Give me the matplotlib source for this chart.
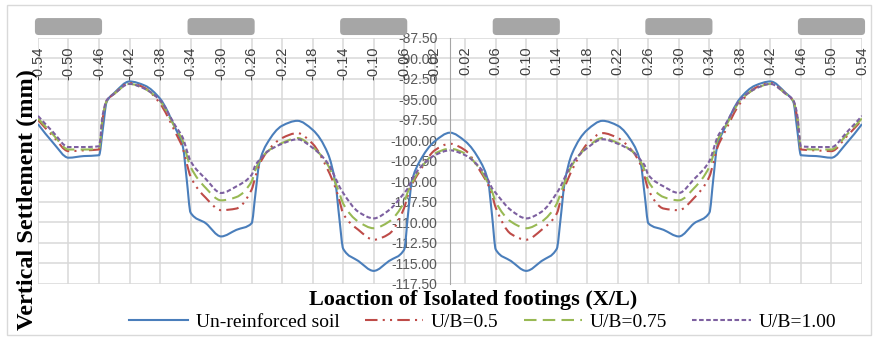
import matplotlib
matplotlib.use('Agg')
from matplotlib import pyplot as plt
from matplotlib.patches import FancyBboxPatch, Rectangle, PathPatch
from matplotlib.path import Path
from matplotlib.lines import Line2D
import matplotlib.transforms as mtransforms

# location along the model (X/L)
x_loc = [-0.54, -0.52, -0.50, -0.48, -0.46, -0.455, -0.45, -0.44, -0.42, -0.40,
         -0.38, -0.36, -0.35, -0.345, -0.34, -0.32, -0.30, -0.28, -0.26, -0.255,
         -0.25, -0.24, -0.22, -0.20, -0.18, -0.16, -0.15, -0.145, -0.14, -0.12,
         -0.10, -0.08, -0.06, -0.055, -0.05, -0.04, -0.02,
         0.00,
         0.02, 0.04, 0.05, 0.055, 0.06, 0.08, 0.10, 0.12, 0.14, 0.145,
         0.15, 0.16, 0.18, 0.20, 0.22, 0.24, 0.25, 0.255, 0.26, 0.28,
         0.30, 0.32, 0.34, 0.345, 0.35, 0.36, 0.38, 0.40, 0.42, 0.44,
         0.45, 0.455, 0.46, 0.48, 0.50, 0.52, 0.54]

unreinforced = [-98.0, -100.3, -102.1, -101.9, -101.8, -98.6, -95.3, -94.2, -92.8, -93.3,
                -94.9, -98.5, -100.8, -104.8, -108.8, -110.1, -111.7, -110.9, -110.1, -106.5,
                -102.8, -100.4, -98.2, -97.6, -98.7, -101.6, -105.3, -109.5, -113.2, -114.7,
                -115.9, -114.7, -113.3, -109.0, -105.0, -102.6, -100.1,
                -99.05,
                -100.1, -102.6, -105.0, -109.0, -113.3, -114.7, -115.9, -114.7, -113.2, -109.5,
                -105.3, -101.6, -98.7, -97.6, -98.2, -100.4, -102.8, -106.5, -110.1, -110.9,
                -111.7, -110.1, -108.8, -104.8, -100.8, -98.5, -94.9, -93.3, -92.8, -94.2,
                -95.3, -98.6, -101.8, -101.9, -102.1, -100.3, -98.0]

ub_050 = [-97.5, -99.5, -101.3, -101.2, -101.1, -97.2, -95.2, -94.3, -93.0, -93.6,
          -95.5, -99.0, -101.0, -102.8, -104.4, -107.0, -108.5, -108.3, -106.0, -104.4,
          -103.0, -101.4, -99.7, -99.1, -100.4, -103.6, -105.8, -107.3, -108.9, -110.9,
          -112.1, -111.4, -108.2, -106.6, -105.4, -103.8, -101.2,
          -100.4,
          -101.2, -103.8, -105.4, -106.6, -108.2, -111.4, -112.1, -110.9, -108.9, -107.3,
          -105.8, -103.6, -100.4, -99.1, -99.7, -101.4, -103.0, -104.4, -106.0, -108.3,
          -108.5, -107.0, -104.4, -102.8, -101.0, -99.0, -95.5, -93.6, -93.0, -94.3,
          -95.2, -97.2, -101.1, -101.2, -101.3, -99.5, -97.5]

ub_075 = [-97.3, -99.3, -101.1, -101.1, -101.0, -97.0, -95.2, -94.3, -93.1, -93.7,
          -95.2, -98.5, -100.1, -101.8, -103.2, -105.8, -107.3, -106.9, -105.0, -103.6,
          -102.6, -101.4, -100.3, -99.7, -100.8, -103.0, -105.2, -106.4, -107.7, -109.9,
          -110.7, -109.9, -107.5, -106.2, -105.2, -103.6, -101.6,
          -101.0,
          -101.6, -103.6, -105.2, -106.2, -107.5, -109.9, -110.7, -109.9, -107.7, -106.4,
          -105.2, -103.0, -100.8, -99.7, -100.3, -101.4, -102.6, -103.6, -105.0, -106.9,
          -107.3, -105.8, -103.2, -101.8, -100.1, -98.5, -95.2, -93.7, -93.1, -94.3,
          -95.2, -97.0, -101.0, -101.1, -101.1, -99.3, -97.3]

ub_100 = [-97.0, -99.0, -100.8, -100.8, -100.7, -96.8, -95.1, -94.3, -93.1, -93.7,
          -95.1, -98.2, -99.7, -101.2, -102.5, -104.7, -106.4, -105.6, -104.2, -103.0,
          -102.4, -101.4, -100.4, -99.85, -100.9, -102.8, -104.6, -105.6, -106.4, -108.7,
          -109.5, -108.5, -106.4, -105.8, -104.8, -103.4, -101.8,
          -101.2,
          -101.8, -103.4, -104.8, -105.8, -106.4, -108.5, -109.5, -108.7, -106.4, -105.6,
          -104.6, -102.8, -100.9, -99.85, -100.4, -101.4, -102.4, -103.0, -104.2, -105.6,
          -106.4, -104.7, -102.5, -101.2, -99.7, -98.2, -95.1, -93.7, -93.1, -94.3,
          -95.1, -96.8, -100.7, -100.8, -100.8, -99.0, -97.0]

series_names = ['Un-reinforced soil', 'U/B=0.5', 'U/B=0.75', 'U/B=1.00']

# footing centres (X/L), drawn as grey blocks above the plot
footings = [-0.50, -0.30, -0.10, 0.10, 0.30, 0.50]

x_ticks = [-0.54 + 0.04 * i for i in range(28)]
y_ticks = [-87.5 - 2.5 * i for i in range(13)]


def smooth_path(xs, ys):
    # excel style "smoothed line": cubic bezier through every point,
    # tangents picked so the curve does not overshoot (pchip rule)
    n = len(xs)
    h = [xs[i + 1] - xs[i] for i in range(n - 1)]
    d = [(ys[i + 1] - ys[i]) / h[i] for i in range(n - 1)]
    m = [0.0] * n
    m[0] = d[0]
    m[-1] = d[-1]
    for k in range(1, n - 1):
        if d[k - 1] * d[k] > 0:
            w1 = 2 * h[k] + h[k - 1]
            w2 = h[k] + 2 * h[k - 1]
            m[k] = (w1 + w2) / (w1 / d[k - 1] + w2 / d[k])
    verts = [(xs[0], ys[0])]
    codes = [Path.MOVETO]
    for k in range(n - 1):
        verts.append((xs[k] + h[k] / 3, ys[k] + m[k] * h[k] / 3))
        verts.append((xs[k + 1] - h[k] / 3, ys[k + 1] - m[k + 1] * h[k] / 3))
        verts.append((xs[k + 1], ys[k + 1]))
        codes += [Path.CURVE4] * 3
    return Path(verts, codes)


fig = plt.figure(figsize=(8.73, 3.38), dpi=100)
ax = fig.add_axes([0.0435, 0.1598, 0.9439, 0.7278])

styles = [dict(color='#4a7ebb', linestyle='-'),
          dict(color='#be4b48', linestyle=(0, (6, 2.5, 1, 2.5, 1, 2.5))),
          dict(color='#98b954', linestyle=(0, (6, 3))),
          dict(color='#7d60a0', linestyle=(0, (2.2, 1.2)))]
handles = []
for ys, st, name in zip([unreinforced, ub_050, ub_075, ub_100], styles, series_names):
    ax.add_patch(PathPatch(smooth_path(x_loc, ys), fill=False, lw=1.5,
                           edgecolor=st['color'], linestyle=st['linestyle']))
    handles.append(Line2D([], [], lw=1.5, label=name, **st))

ax.set_xlim(-0.54, 0.54)
ax.set_ylim(-117.5, -87.5)
ax.set_xticks(x_ticks)
ax.set_yticks(y_ticks)
ax.set_yticklabels(['%.2f' % v for v in y_ticks])
ax.grid(True, color='#d9d9d9', lw=1.1)
ax.set_axisbelow(True)
for s in ['top', 'bottom', 'right']:
    ax.spines[s].set_visible(False)
ax.spines['left'].set_position(('data', 0))
ax.spines['left'].set_color('#a6a6a6')
ax.tick_params(axis='x', length=0, labelbottom=False)
ax.tick_params(axis='y', length=0, pad=9, labelsize=10, labelcolor='#595959')
for lab in ax.get_yticklabels():
    lab.set_family('Liberation Sans')

# x tick labels hang down inside the plot from the top edge
for xt in x_ticks:
    ax.annotate('%.2f' % xt, xy=(xt, -87.5), xytext=(0, -6), textcoords='offset points',
                rotation=90, ha='center', va='top', fontsize=10.5,
                family='Liberation Sans', color='#404040')

# footings
trans = mtransforms.blended_transform_factory(ax.transData, ax.transAxes)
for fx in footings:
    box = FancyBboxPatch((fx - 0.044, 1.012), 0.088, 0.069,
                         boxstyle='round,pad=0,rounding_size=0.005',
                         mutation_aspect=3.1, transform=trans, clip_on=False,
                         facecolor='#a6a6a6', edgecolor='none')
    ax.add_patch(box)

fig.patches.append(Rectangle((0.008, 0.009), 0.99, 0.976, transform=fig.transFigure,
                             fill=False, edgecolor='#d9d9d9', lw=1))

fig.text(0.032, 0.411, 'Vertical Settlement (mm)', rotation=90, ha='center', va='center',
         family='Liberation Serif', fontweight='bold', fontsize=17.5)
fig.text(0.542, 0.113, 'Loaction of Isolated footings (X/L)', ha='center', va='center',
         family='Liberation Serif', fontweight='bold', fontsize=16)

fig.legend(handles=handles, loc='center', bbox_to_anchor=(0.553, 0.047), ncol=4,
           frameon=False, prop={'family': 'Liberation Serif', 'size': 14},
           handlelength=3.0, columnspacing=1.3, handletextpad=0.4)

fig.savefig('out.png', dpi=100)
